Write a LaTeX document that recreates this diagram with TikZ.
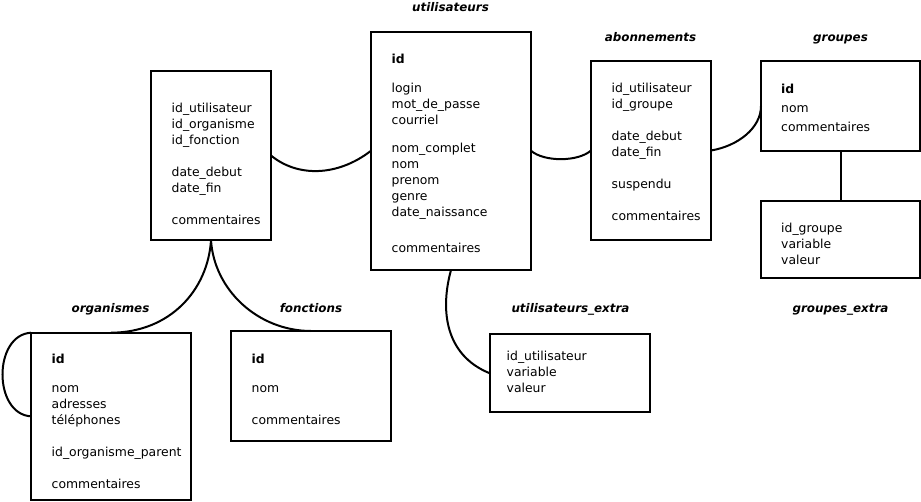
\documentclass[tikz,border=0pt]{standalone}
\usepackage{fontspec}
\setmainfont{DejaVu Sans}
\begin{document}
\begin{tikzpicture}[x=1pt,y=-1pt,
  tbl/.style={draw, line width=2pt, inner sep=0pt, outer sep=0pt},
  fld/.style={anchor=base west, inner sep=0pt, font=\fontsize{12.4}{16}\selectfont},
  ttl/.style={anchor=base, inner sep=0pt, font=\fontsize{11.9}{14}\selectfont\bfseries\itshape},
  link/.style={line width=2pt}]
\useasboundingbox (0,0) rectangle (921,501);

% tables
\node[tbl, minimum width=120pt, minimum height=169pt]   (assoc) at (211,155.5) {};
\node[tbl, minimum width=160pt, minimum height=238.5pt] (util)  at (451,150.75) {};
\node[tbl, minimum width=120pt, minimum height=179pt]   (abon)  at (651,150.5) {};
\node[tbl, minimum width=159pt, minimum height=90pt]    (grp)   at (840.5,106) {};
\node[tbl, minimum width=159pt, minimum height=77.3pt]  (grpx)  at (840.5,239.65) {};
\node[tbl, minimum width=160pt, minimum height=167.3pt] (org)   at (111,416.35) {};
\node[tbl, minimum width=160pt, minimum height=109.7pt] (fonc)  at (311,385.85) {};
\node[tbl, minimum width=160.5pt, minimum height=78.3pt](ux)    at (569.75,373.15) {};

% titles
\node[ttl] (t-util) at (450.5,11.5) {utilisateurs};
\node[ttl] (t-abon) at (650.5,41) {abonnements};
\node[ttl] (t-grp)  at (840.5,41) {groupes};
\node[ttl] (t-org)  at (110.5,312) {organismes};
\node[ttl] (t-fonc) at (311,312) {fonctions};
\node[ttl] (t-ux)   at (570.5,312) {utilisateurs\_extra};
\node[ttl] (t-grpx) at (840.5,312) {groupes\_extra};

% fields
\foreach \y/\t [count=\i] in {112/id\_utilisateur, 128/id\_organisme, 144/id\_fonction,
  176/date\_debut, 192/date\_fin, 224/commentaires}
  \node[fld] (assoc-f\i) at (171.5,\y) {\t};

\foreach \y/\t [count=\i] in {63/\textbf{id}, 92/login, 108/mot\_de\_passe, 124/courriel,
  152/nom\_complet, 168/nom, 184/prenom, 200/genre, 216/date\_naissance, 252/commentaires}
  \node[fld] (util-f\i) at (391.5,\y) {\t};

\foreach \y/\t [count=\i] in {92/id\_utilisateur, 108/id\_groupe, 140/date\_debut,
  156/date\_fin, 188/suspendu, 220/commentaires}
  \node[fld] (abon-f\i) at (611.5,\y) {\t};

\foreach \y/\t [count=\i] in {93/\textbf{id}, 112/nom, 131/commentaires}
  \node[fld] (grp-f\i) at (781,\y) {\t};

\foreach \y/\t [count=\i] in {232/id\_groupe, 248/variable, 264/valeur}
  \node[fld] (grpx-f\i) at (781,\y) {\t};

\foreach \y/\t [count=\i] in {363/\textbf{id}, 392/nom, 408/adresses, 424/téléphones,
  456/id\_organisme\_parent, 488/commentaires}
  \node[fld] (org-f\i) at (51.5,\y) {\t};

\foreach \y/\t [count=\i] in {363/\textbf{id}, 392/nom, 424/commentaires}
  \node[fld] (fonc-f\i) at (251.5,\y) {\t};

\foreach \y/\t [count=\i] in {360/id\_utilisateur, 376/variable, 392/valeur}
  \node[fld] (ux-f\i) at (506.5,\y) {\t};

% connectors
\draw[link] (assoc.east) .. controls (297,177) and (337,177) .. (util.west);
\draw[link] (util.east) .. controls (544,162) and (578,162) .. (abon.west);
\draw[link] (abon.east) .. controls (738,146) and (761,128) .. (grp.west);
\draw[link] (grp.south) -- (grpx.north);
\draw[link] (assoc.south) .. controls (208,290) and (170,332.5) .. (org.north);
\draw[link] (assoc.south) .. controls (214,290) and (258,330.85) .. (fonc.north);
\draw[link] (org.north west) .. controls (-7,335) and (-7,414) .. (org.west);
\draw[link] (util.south) .. controls (440,310) and (445,355) .. (ux.west);
\end{tikzpicture}
\end{document}
